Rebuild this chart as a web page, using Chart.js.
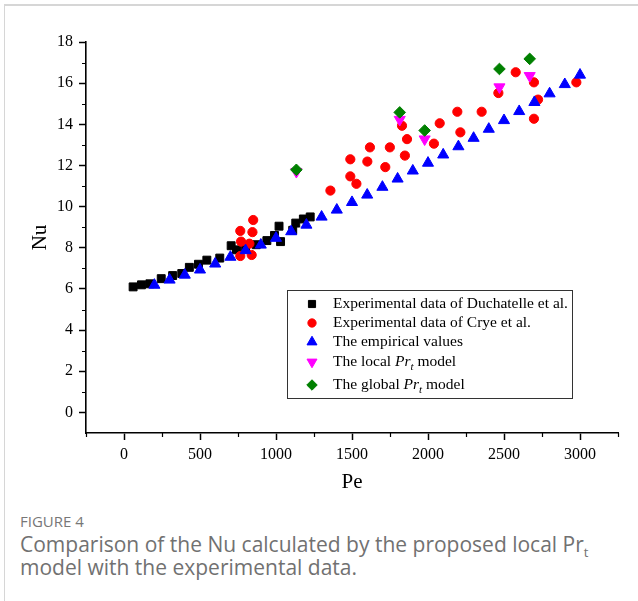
<!DOCTYPE html>
<html>
<head>
<meta charset="utf-8">
<script src="https://cdn.jsdelivr.net/npm/chart.js@4.4.0/dist/chart.umd.min.js"></script>
<style>
  body { margin: 0; background: #fff; width: 638px; height: 601px; overflow: hidden; position: relative; }
  .card { position: absolute; left: 4px; top: 4px; width: 660px; height: 620px; border-left: 1px solid #d6d6d6; border-top: 2px solid #d6d6d6; }
  #chart { position: absolute; left: 0; top: 0; }
  .fig { position: absolute; left: 20px; top: 511px; font-family: "Open Sans", sans-serif; font-size: 15px; color: #777; }
  .cap { position: absolute; left: 20px; top: 533px; font-family: "Open Sans", sans-serif; font-size: 21px; line-height: 23px; color: #717171; white-space: nowrap; }
  .cap sub { font-size: 13px; line-height: 0; }
</style>
</head>
<body>
<div class="card"></div>
<canvas id="chart" width="638" height="500"></canvas>
<div class="fig">FIGURE 4</div>
<div class="cap">Comparison of the Nu calculated by the proposed local Pr<sub>t</sub><br>model with the experimental data.</div>
<script>
// axis ticks
const xTicks = [0, 500, 1000, 1500, 2000, 2500, 3000]
const yTicks = [0, 2, 4, 6, 8, 10, 12, 14, 16, 18]
const xMinor = [-250, 250, 750, 1250, 1750, 2250, 2750, 3250]
const yMinor = [1, 3, 5, 7, 9, 11, 13, 15, 17]

// Experimental data of Duchatelle et al.
const duchatellePe = [60, 115, 170, 245, 320, 380, 430, 490, 545, 630, 705, 740, 800, 870, 940, 990, 1020, 1030, 1110, 1130, 1180, 1225]
const duchatelleNu = [6.1, 6.2, 6.25, 6.5, 6.65, 6.75, 7.05, 7.2, 7.4, 7.5, 8.1, 7.9, 7.95, 8.15, 8.35, 8.6, 9.05, 8.3, 8.85, 9.2, 9.4, 9.5]

// Experimental data of Crye et al.
const cryePe = [765, 770, 765, 825, 840, 845, 850, 1358, 1489, 1489, 1529, 1601, 1618, 1719, 1749, 1829, 1848, 1862, 2039, 2077, 2193, 2213, 2353, 2463, 2577, 2697, 2697, 2724, 2976]
const cryeNu = [8.82, 8.3, 7.6, 8.2, 7.65, 8.76, 9.35, 10.78, 12.3, 11.47, 11.11, 12.19, 12.88, 11.92, 12.88, 13.93, 12.48, 13.28, 13.06, 14.05, 14.61, 13.61, 14.61, 15.52, 16.53, 16.04, 14.27, 15.2, 16.04]

// The empirical values
const empiricalPe = [200, 300, 400, 500, 600, 700, 800, 900, 1000, 1100, 1200, 1300, 1400, 1500, 1600, 1700, 1800, 1900, 2000, 2100, 2200, 2300, 2400, 2500, 2600, 2700, 2800, 2900, 3000]
const empiricalNu = [6.19, 6.44, 6.68, 6.93, 7.22, 7.55, 7.87, 8.14, 8.47, 8.79, 9.11, 9.5, 9.84, 10.21, 10.57, 10.95, 11.35, 11.74, 12.12, 12.52, 12.92, 13.33, 13.77, 14.19, 14.63, 15.07, 15.49, 15.94, 16.4]

// The local / global Pr_t models
const modelPe = [1134, 1814, 1978, 2470, 2669]
const localNu = [11.7, 14.23, 13.28, 15.81, 16.36]
const globalNu = [11.79, 14.58, 13.7, 16.69, 17.18]

const serif = "'Liberation Serif', 'Times New Roman', serif"

const toPoints = (xs, ys) => xs.map((x, i) => ({ x: x, y: ys[i] }))

const series = [
  { label: "Experimental data of Duchatelle et al.", data: toPoints(duchatellePe, duchatelleNu), color: "#000000", style: "rect", radius: 5.6, rotation: 0, order: 5 },
  { label: "Experimental data of Crye et al.", data: toPoints(cryePe, cryeNu), color: "#ff0000", style: "circle", radius: 4.6, rotation: 0, order: 4 },
  { label: "The empirical values", data: toPoints(empiricalPe, empiricalNu), color: "#0000ff", style: "triangle", radius: 6.4, rotation: 0, order: 3 },
  { label: "The local ", italic: "Pr", sub: "t", rest: " model", data: toPoints(modelPe, localNu), color: "#ff00ff", style: "triangle", radius: 6.4, rotation: 180, order: 2 },
  { label: "The global ", italic: "Pr", sub: "t", rest: " model", data: toPoints(modelPe, globalNu), color: "#008000", style: "rectRot", radius: 5.8, rotation: 0, order: 1 }
]

// minor ticks, like the original axes
const minorTicks = {
  id: "minorTicks",
  afterDraw(chart) {
    const ctx = chart.ctx
    const { left, bottom } = chart.chartArea
    ctx.save()
    ctx.strokeStyle = "#000"
    ctx.lineWidth = 1.2
    ctx.beginPath()
    yMinor.forEach(v => {
      const y = Math.round(chart.scales.y.getPixelForValue(v)) + 0.5
      ctx.moveTo(left - 4, y)
      ctx.lineTo(left, y)
    })
    xMinor.forEach(v => {
      const x = Math.round(chart.scales.x.getPixelForValue(v)) + 0.5
      ctx.moveTo(x, bottom)
      ctx.lineTo(x, bottom + 4)
    })
    ctx.stroke()
    ctx.restore()
  }
}

// boxed legend inside the plot
const legendBox = {
  id: "legendBox",
  afterDraw(chart) {
    const ctx = chart.ctx
    const { left, top } = chart.chartArea
    const x0 = left + 201
    const y0 = top + 248
    const fs = 15.5
    ctx.save()
    ctx.fillStyle = "#fff"
    ctx.fillRect(x0, y0, 285, 108)
    ctx.strokeStyle = "#333"
    ctx.lineWidth = 1
    ctx.strokeRect(x0 + 0.5, y0 + 0.5, 285, 108)
    const rows = [14, 33, 52, 72, 95]
    series.forEach((s, i) => {
      const y = y0 + rows[i]
      ctx.fillStyle = s.color
      ctx.strokeStyle = s.color
      Chart.helpers.drawPoint(ctx, { pointStyle: s.style, radius: s.radius * 0.9, rotation: s.rotation, borderWidth: 1 }, x0 + 25, y)
      ctx.fillStyle = "#000"
      ctx.textBaseline = "middle"
      ctx.font = fs + "px " + serif
      let tx = x0 + 46
      ctx.fillText(s.label, tx, y)
      if (s.italic) {
        tx += ctx.measureText(s.label).width
        ctx.font = "italic " + fs + "px " + serif
        ctx.fillText(s.italic, tx, y)
        tx += ctx.measureText(s.italic).width
        ctx.font = "italic 11px " + serif
        ctx.fillText(s.sub, tx, y + 5)
        tx += ctx.measureText(s.sub).width
        ctx.font = fs + "px " + serif
        ctx.fillText(s.rest, tx, y)
      }
    })
    ctx.restore()
  }
}

const ctx = document.getElementById("chart").getContext("2d")
const chart = new Chart(ctx, {
  type: "scatter",
  data: {
    datasets: series.map(s => ({
      label: s.label,
      data: s.data,
      order: s.order,
      pointStyle: s.style,
      pointRotation: s.rotation,
      pointRadius: s.radius,
      pointBackgroundColor: s.color,
      pointBorderColor: s.color,
      pointBorderWidth: 1,
      showLine: false
    }))
  },
  options: {
    responsive: false,
    animation: false,
    layout: { padding: { top: 42, right: 20, bottom: 5, left: 0 } },
    plugins: {
      legend: { display: false },
      tooltip: { enabled: false }
    },
    scales: {
      x: {
        type: "linear",
        min: -250,
        max: 3250,
        afterBuildTicks: (scale) => { scale.ticks = xTicks.map(v => ({ value: v })) },
        afterFit: (scale) => { scale.height = 62 },
        grid: { drawOnChartArea: false, tickLength: 7, tickWidth: 1.5, tickColor: "#000" },
        border: { color: "#000", width: 1.6 },
        ticks: { color: "#000", font: { family: serif, size: 16 }, padding: 5, maxRotation: 0, callback: (v) => String(v) },
        title: { display: true, text: "Pe", color: "#000", font: { family: serif, size: 21 }, padding: { top: 0, bottom: 0 } }
      },
      y: {
        type: "linear",
        min: -1,
        max: 18,
        afterBuildTicks: (scale) => { scale.ticks = yTicks.map(v => ({ value: v })) },
        afterFit: (scale) => { scale.width = 86 },
        grid: { drawOnChartArea: false, tickLength: 7, tickWidth: 1.5, tickColor: "#000" },
        border: { color: "#000", width: 1.6 },
        ticks: { color: "#000", font: { family: serif, size: 16 }, padding: 6, callback: (v) => String(v) },
        title: { display: true, text: "Nu", color: "#000", font: { family: serif, size: 21 }, padding: { top: 28, bottom: 0 } }
      }
    }
  },
  plugins: [minorTicks, legendBox]
})
</script>
</body>
</html>
